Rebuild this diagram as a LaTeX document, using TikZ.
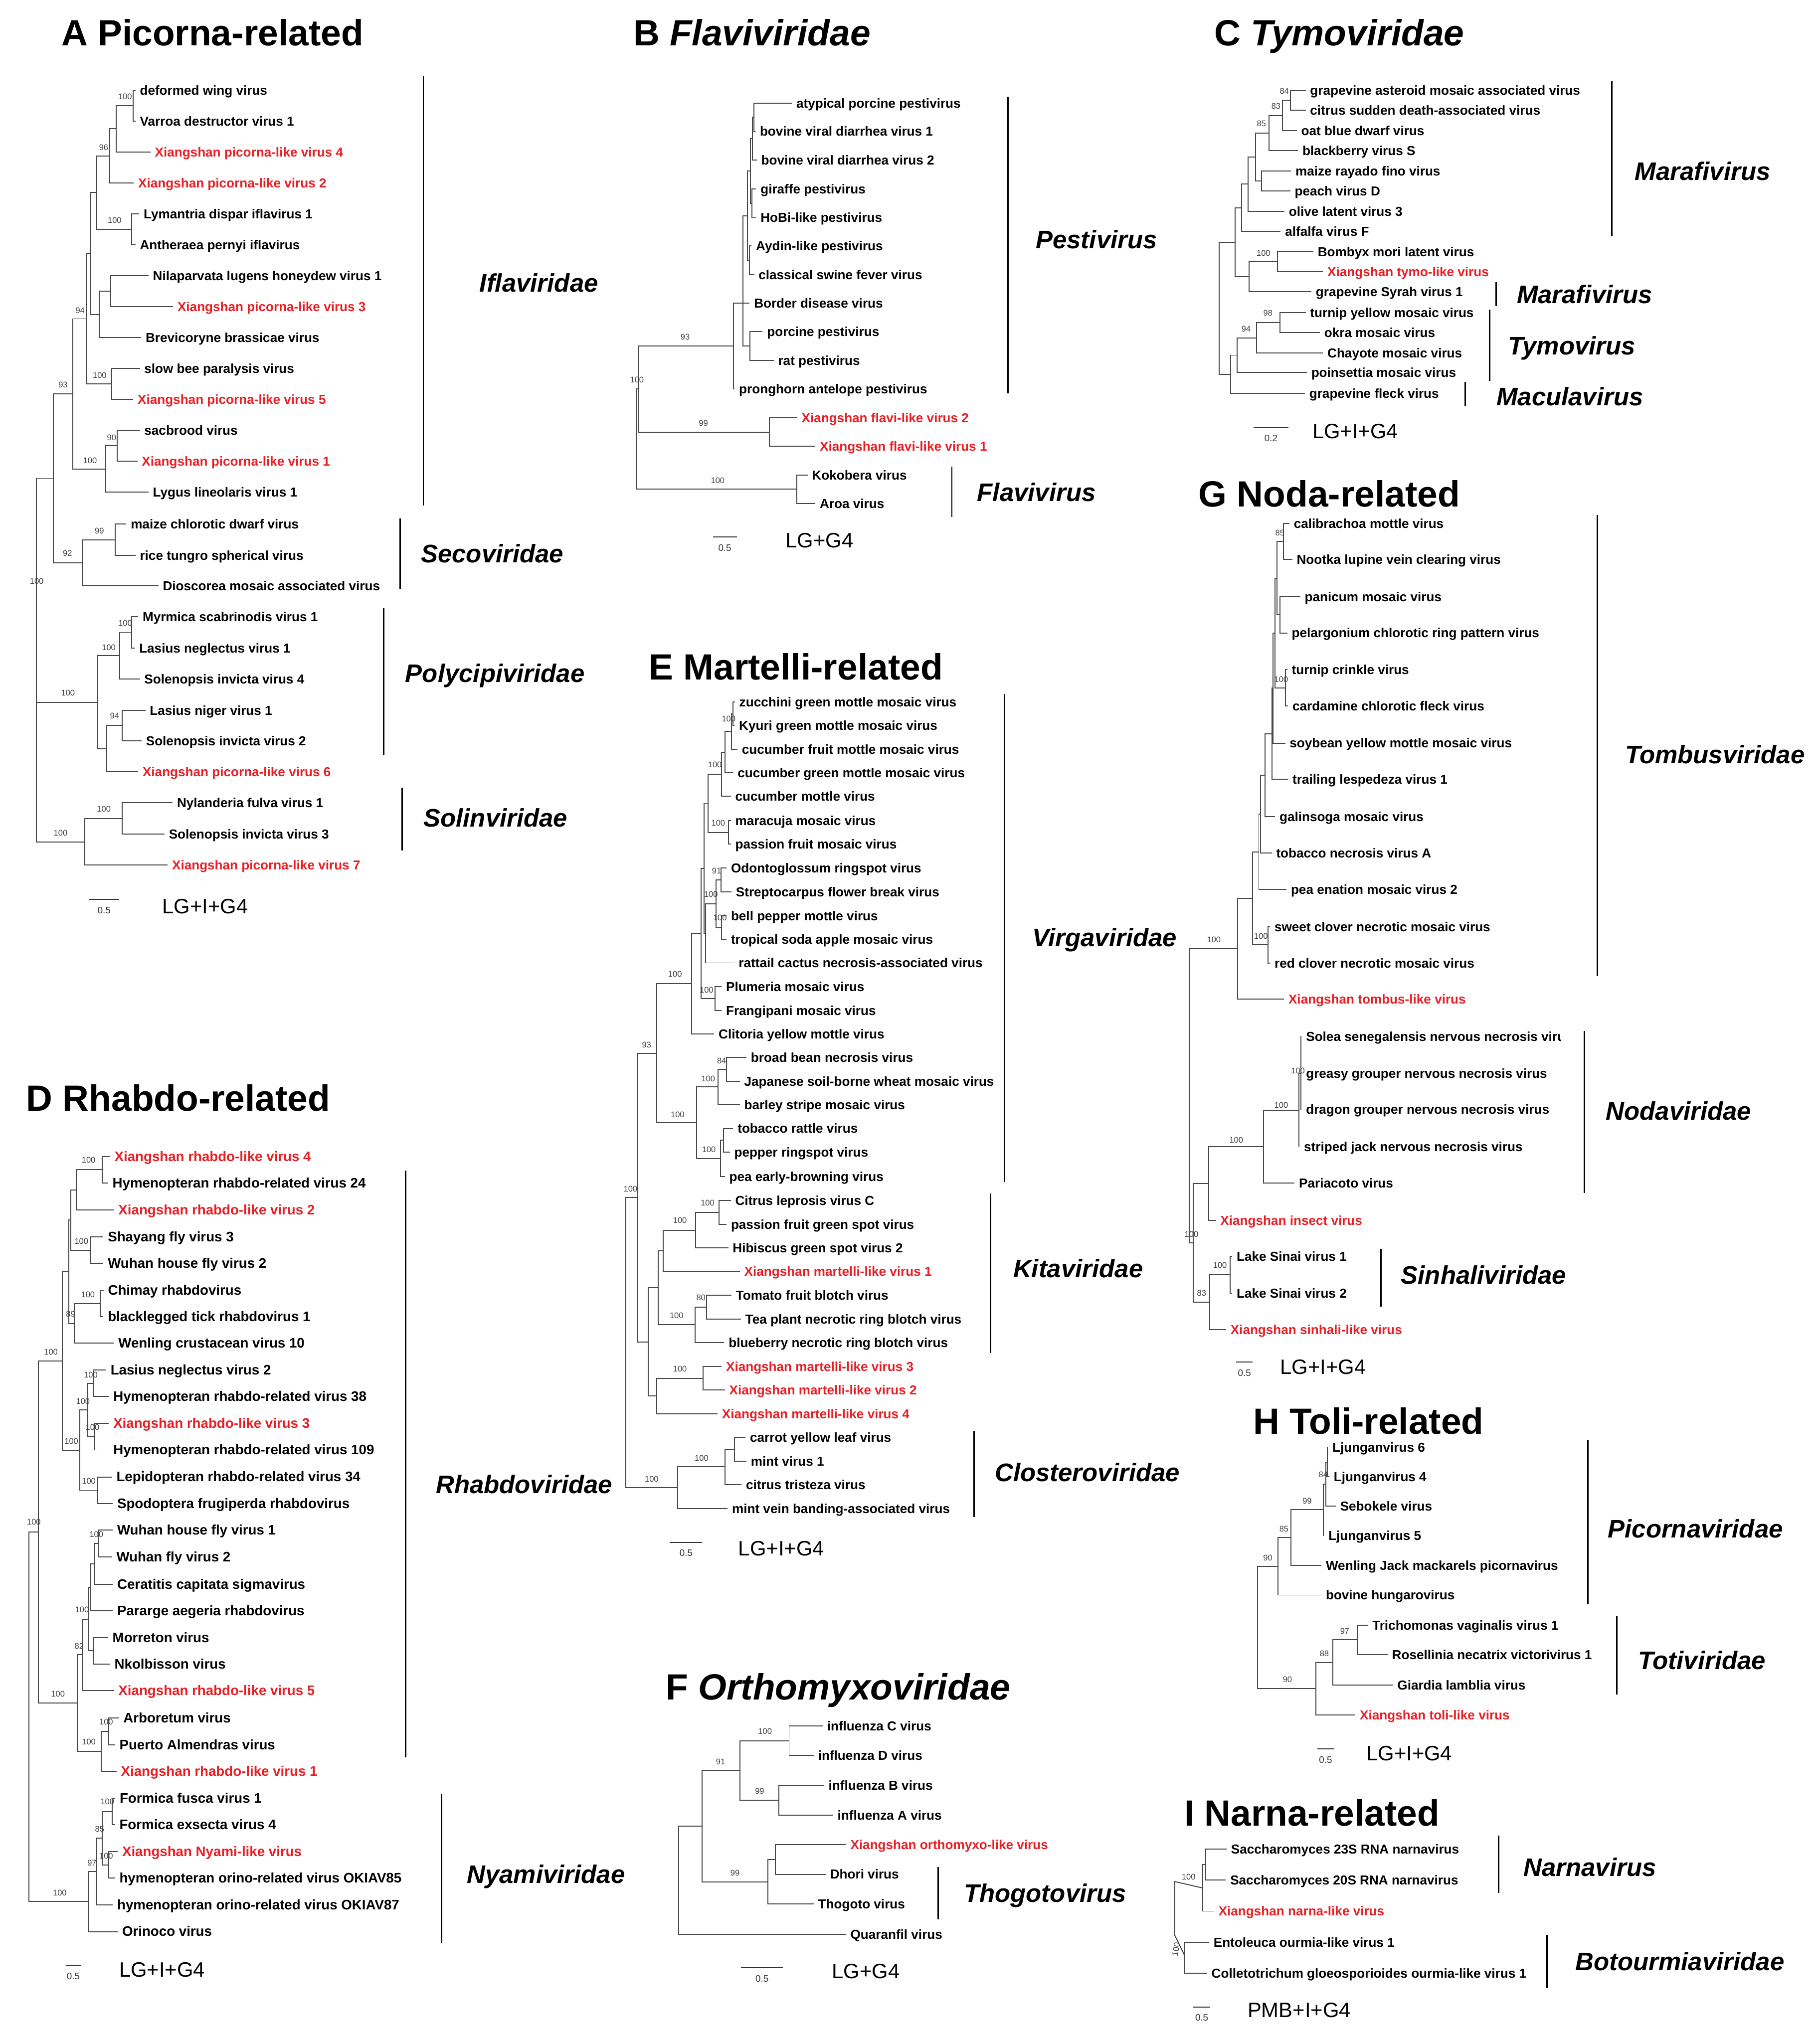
\documentclass[tikz,border=0pt]{standalone}
\usepackage{fontspec}
\setmainfont{Liberation Sans}
\definecolor{xred}{RGB}{232,30,36}
\newcounter{nc}
\tikzset{
 br/.style={draw=black!72, line width=0.75pt},
 leaf/.style={font=\fontsize{10}{12}\selectfont\bfseries, inner sep=0pt, text=black},
 bsl/.style={font=\fontsize{6.3}{7}\selectfont, inner sep=0pt, text=black!75, anchor=base},
 cbarst/.style={draw=black, line width=1.1pt},
 famst/.style={font=\fontsize{19.5}{22}\selectfont\bfseries\itshape, inner sep=0pt, anchor=base west},
 ttlst/.style={font=\fontsize{28}{32}\selectfont\bfseries, inner sep=0pt, anchor=base west},
 modst/.style={font=\fontsize{16}{18}\selectfont, inner sep=0pt, anchor=base west},
 scst/.style={font=\fontsize{7.2}{8}\selectfont, inner sep=0pt, anchor=base, text=black!80},
}
\newcommand\cl[5]{\draw[br] (#2,#3) -| (#1,#5) -- (#4,#5);}
\newcommand\hb[3]{\draw[br] (#1,#3) -- (#2,#3);}
\newcommand\lf[4]{\node[leaf,anchor=base west] (#1) at ({#2+3.2},{#3+3.6}) {#4};}
\newcommand\lr[4]{\node[leaf,text=xred,anchor=base west] (#1) at ({#2+3.2},{#3+3.6}) {#4};}
\newcommand\lfc[6]{\begin{scope}\clip ({#2},{#3-9}) rectangle (#5,{#3+9});\node[leaf,text=#6,anchor=base west] (#1) at ({#2+3.2},{#3+3.6}) {#4};\end{scope}}
\newcommand\bs[3]{\stepcounter{nc}\edef\nn{bs\arabic{nc}}\node[bsl] (\nn) at (#1,{#2+2.2}) {#3};}
\newcommand\cbar[3]{\draw[cbarst] (#1,#2) -- (#1,#3);}
\newcommand\flab[4]{\node[famst] (#1) at (#2,{#3+7}) {#4};}
\newcommand\ttl[4]{\node[ttlst] (#1) at (#2,{#3+10}) {#4};}
\newcommand\scb[8]{\draw[br,draw=black!80] (#2,#4) -- (#3,#4);\node[scst] (#1s) at ({(#2+#3)/2},{#4+10.8}) {#5};\node[modst] (#1m) at (#7,{#8+5.7}) {#6};}
\begin{document}
\begin{tikzpicture}[x=1pt,y=-1pt]
\fill[white,use as bounding box] (0,0) rectangle (1397,1568);
% ================= A
\ttl{tA}{47}{25}{A Picorna-related}
\lf{a1}{104}{69.2}{deformed wing virus}
\lf{a2}{104}{92.9}{Varroa destructor virus 1}
\lr{a3}{115.5}{116.8}{Xiangshan picorna-like virus 4}
\lr{a4}{102.7}{140.5}{Xiangshan picorna-like virus 2}
\lf{a5}{106.9}{164.3}{Lymantria dispar iflavirus 1}
\lf{a6}{104}{188.0}{Antheraea pernyi iflavirus}
\lf{a7}{114}{211.8}{Nilaparvata lugens honeydew virus 1}
\lr{a8}{132.9}{235.5}{Xiangshan picorna-like virus 3}
\lf{a9}{108.4}{259.3}{Brevicoryne brassicae virus}
\lf{a10}{107.4}{283.0}{slow bee paralysis virus}
\lr{a11}{102.3}{306.7}{Xiangshan picorna-like virus 5}
\lf{a12}{107.4}{330.5}{sacbrood virus}
\lr{a13}{105.5}{354.2}{Xiangshan picorna-like virus 1}
\lf{a14}{114}{378.0}{Lygus lineolaris virus 1}
\lf{a15}{97}{402.4}{maize chlorotic dwarf virus}
\lf{a16}{104}{426.4}{rice tungro spherical virus}
\lf{a17}{121.6}{449.8}{Dioscorea mosaic associated virus}
\lf{a18}{106.1}{473.6}{Myrmica scabrinodis virus 1}
\lf{a19}{103.5}{497.6}{Lasius neglectus virus 1}
\lf{a20}{107.4}{521.4}{Solenopsis invicta virus 4}
\lf{a21}{111.6}{545.4}{Lasius niger virus 1}
\lf{a22}{108.7}{568.7}{Solenopsis invicta virus 2}
\lr{a23}{106.1}{592.7}{Xiangshan picorna-like virus 6}
\lf{a24}{132.5}{616.5}{Nylanderia fulva virus 1}
\lf{a25}{126.3}{640.5}{Solenopsis invicta virus 3}
\lr{a26}{128.7}{664.3}{Xiangshan picorna-like virus 7}
\cl{102.1}{104}{69.2}{104}{92.9}
\cl{89.1}{102.1}{81.05}{115.5}{116.8}
\cl{84.4}{89.1}{98.9}{102.7}{140.5}
\cl{101.2}{106.9}{164.3}{104}{188.0}
\cl{74.4}{84.4}{119.7}{101.2}{176.15}
\cl{84.8}{114}{211.8}{132.9}{235.5}
\cl{76.3}{84.8}{223.65}{108.4}{259.3}
\cl{69.7}{74.4}{147.9}{76.3}{241.5}
\cl{85.7}{107.4}{283.0}{102.3}{306.7}
\cl{66.3}{69.7}{194.7}{85.7}{294.85}
\cl{89.9}{107.4}{330.5}{105.5}{354.2}
\cl{81.0}{89.9}{342.35}{114}{378.0}
\cl{55.9}{66.3}{244.8}{81.0}{360.2}
\cl{88.6}{97}{402.4}{104}{426.4}
\cl{63.1}{88.6}{414.4}{121.6}{449.8}
\cl{40.8}{55.9}{302.5}{63.1}{432.1}
\cl{101.2}{106.1}{473.6}{103.5}{497.6}
\cl{91.8}{101.2}{485.6}{107.4}{521.4}
\cl{93.7}{111.6}{545.4}{108.7}{568.7}
\cl{82.0}{93.7}{557.05}{106.1}{592.7}
\cl{75.0}{91.8}{503.5}{82.0}{574.9}
\cl{93.7}{132.5}{616.5}{126.3}{640.5}
\cl{65.0}{93.7}{628.5}{128.7}{664.3}
\cl{28}{40.8}{367.3}{65.0}{646.4}
\hb{28}{75}{539.2}
\bs{96}{74}{100}\bs{79.6}{113.1}{96}\bs{88}{169.2}{100}\bs{61.5}{238.3}{94}
\bs{76.5}{288}{100}\bs{48.4}{295.5}{93}\bs{85.7}{335.9}{90}\bs{69.1}{353.8}{100}
\bs{76.3}{407.5}{99}\bs{51.8}{425}{92}\bs{28.2}{446.3}{100}\bs{96.1}{478.3}{100}
\bs{83.5}{497}{100}\bs{88}{549.8}{94}\bs{52.2}{532.1}{100}\bs{79.7}{621.2}{100}\bs{46.5}{639.5}{100}
\cbar{325}{58}{388}\cbar{307.3}{398}{452}\cbar{294.5}{467}{580}\cbar{308.8}{605}{653}
\flab{fA1}{368}{217}{Iflaviridae}\flab{fA2}{323}{425}{Secoviridae}
\flab{fA3}{311}{517}{Polycipiviridae}\flab{fA4}{325}{628}{Solinviridae}
\scb{scA}{68.4}{91.4}{690.7}{0.5}{LG+I+G4}{124.4}{695.8}
% ================= B
\ttl{tB}{486}{25}{B \textit{Flaviviridae}}
\lf{b1}{608}{79.1}{atypical porcine pestivirus}
\lf{b2}{580}{100.9}{bovine viral diarrhea virus 1}
\lf{b3}{581}{123}{bovine viral diarrhea virus 2}
\lf{b4}{580.5}{145.1}{giraffe pestivirus}
\lf{b5}{580.5}{167.1}{HoBi-like pestivirus}
\lf{b6}{577}{188.9}{Aydin-like pestivirus}
\lf{b7}{579}{211}{classical swine fever virus}
\lf{b8}{575.5}{232.8}{Border disease virus}
\lf{b9}{585.5}{254.6}{porcine pestivirus}
\lf{b10}{594}{276.7}{rat pestivirus}
\lf{b11}{564}{298.5}{pronghorn antelope pestivirus}
\lr{b12}{612}{320.8}{Xiangshan flavi-like virus 2}
\lr{b13}{626}{342.7}{Xiangshan flavi-like virus 1}
\lf{b14}{620}{364.7}{Kokobera virus}
\lf{b15}{626}{386.6}{Aroa virus}
\cl{578.7}{608}{79.1}{580}{100.9}
\cl{577.5}{578.7}{90}{581}{123}
\cl{577.3}{580.5}{145.1}{580.5}{167.1}
\cl{576}{577.5}{106.5}{577.3}{156.1}
\cl{575.5}{577}{188.9}{579}{211}
\cl{574}{576}{131.3}{575.5}{200}
\cl{575.6}{585.5}{254.6}{594}{276.7}
\cl{570.4}{574}{165.6}{575.6}{265.65}
\hb{570.4}{575.5}{232.8}
\cl{563.1}{570.4}{232.8}{564}{298.5}
\cl{590.7}{612}{320.8}{626}{342.7}
\cl{490.4}{563.1}{265.7}{590.7}{331.75}
\cl{611.9}{620}{364.7}{626}{386.6}
\cl{488.5}{490.4}{298.7}{611.9}{375.65}
\bs{526}{258.6}{93}\bs{540}{324.8}{99}\bs{551}{369}{100}\bs{489}{291.5}{100}
\cbar{773.8}{74.4}{302}\cbar{730.8}{358.4}{397}
\flab{fB1}{795}{184}{Pestivirus}\flab{fB2}{750}{378}{Flavivirus}
\scb{scB}{547.3}{565.6}{412.4}{0.5}{LG+G4}{603}{414.7}
% ================= C
\ttl{tC}{932}{25}{C \textit{Tymoviridae}}
\lf{c1}{1002.4}{69.5}{grapevine asteroid mosaic associated virus}
\lf{c2}{1002.4}{84.7}{citrus sudden death-associated virus}
\lf{c3}{995.6}{100.2}{oat blue dwarf virus}
\lf{c4}{996.5}{115.7}{blackberry virus S}
\lf{c5}{991.2}{131.2}{maize rayado fino virus}
\lf{c6}{990.6}{146.7}{peach virus D}
\lf{c7}{986.1}{162.2}{olive latent virus 3}
\lf{c8}{983.2}{177.6}{alfalfa virus F}
\lf{c9}{1008.3}{193.5}{Bombyx mori latent virus}
\lr{c10}{1015.7}{208.6}{Xiangshan tymo-like virus}
\lf{c11}{1006.8}{224.1}{grapevine Syrah virus 1}
\lf{c12}{1002.4}{240}{turnip yellow mosaic virus}
\lf{c13}{1013.3}{255.5}{okra mosaic virus}
\lf{c14}{1015.7}{271}{Chayote mosaic virus}
\lf{c15}{1003.3}{286.1}{poinsettia mosaic virus}
\lf{c16}{1001.8}{302}{grapevine fleck virus}
\cl{990.6}{1002.4}{69.5}{1002.4}{84.7}
\cl{984.7}{990.6}{77.1}{995.6}{100.2}
\cl{974.3}{984.7}{88.65}{996.5}{115.7}
\cl{968.4}{991.2}{131.2}{990.6}{146.7}
\cl{964}{974.3}{102.2}{968.4}{138.95}
\cl{958.1}{964}{120.6}{986.1}{162.2}
\cl{953.1}{958.1}{141.4}{983.2}{177.6}
\cl{980.8}{1008.3}{193.5}{1015.7}{208.6}
\cl{959}{980.8}{201.05}{1006.8}{224.1}
\cl{948.3}{953.1}{159.5}{959}{212.6}
\cl{982.6}{1002.4}{240}{1013.3}{255.5}
\cl{964.6}{982.6}{247.75}{1015.7}{271}
\cl{949.8}{964.6}{259.4}{1003.3}{286.1}
\cl{944.8}{949.8}{272.75}{1001.8}{302}
\cl{935.9}{948.3}{186.05}{944.8}{287.4}
\bs{986}{70}{84}\bs{979.6}{81.4}{83}\bs{968.4}{95}{85}\bs{970}{194.4}{100}\bs{973.4}{240.5}{98}\bs{956.6}{252.4}{94}
\cbar{1237.3}{61.9}{181.3}\cbar{1148.7}{216.8}{235}\cbar{1143.6}{237.8}{292.5}\cbar{1125}{293.4}{311.6}
\flab{fC1}{1255}{131.2}{Marafivirus}\flab{fC2}{1164.3}{226}{Marafivirus}
\flab{fC3}{1157.5}{265.2}{Tymovirus}\flab{fC4}{1148.7}{304.4}{Maculavirus}
\scb{scC}{962.5}{989.1}{328}{0.2}{LG+I+G4}{1007.4}{330.8}
% ================= D
\ttl{tD}{20}{843}{D Rhabdo-related}
\begin{scope}[leaf/.append style={font=\fontsize{10.6}{12}\selectfont\bfseries}]
\lr{d1}{84.5}{888.2}{Xiangshan rhabdo-like virus 4}
\lf{d2}{83}{908.3}{Hymenopteran rhabdo-related virus 24}
\lr{d3}{87.5}{929.1}{Xiangshan rhabdo-like virus 2}
\lf{d4}{79.4}{949.8}{Shayang fly virus 3}
\lf{d5}{79.4}{970.2}{Wuhan house fly virus 2}
\lf{d6}{79.5}{990.9}{Chimay rhabdovirus}
\lf{d7}{79.4}{1011.1}{blacklegged tick rhabdovirus 1}
\lf{d8}{87.5}{1031.4}{Wenling crustacean virus 10}
\lf{d9}{81.5}{1052.1}{Lasius neglectus virus 2}
\lf{d10}{83.6}{1072.3}{Hymenopteran rhabdo-related virus 38}
\lr{d11}{83.6}{1093}{Xiangshan rhabdo-like virus 3}
\lf{d12}{83.6}{1113.4}{Hymenopteran rhabdo-related virus 109}
\lf{d13}{86}{1134.1}{Lepidopteran rhabdo-related virus 34}
\lf{d14}{86.6}{1154.7}{Spodoptera frugiperda rhabdovirus}
\lf{d15}{86.6}{1175}{Wuhan house fly virus 1}
\lf{d16}{86}{1195.5}{Wuhan fly virus 2}
\lf{d17}{86.6}{1216.6}{Ceratitis capitata sigmavirus}
\lf{d18}{86.6}{1236.7}{Pararge aegeria rhabdovirus}
\lf{d19}{83}{1257.6}{Morreton virus}
\lf{d20}{84.5}{1277.7}{Nkolbisson virus}
\lr{d21}{87.5}{1298.2}{Xiangshan rhabdo-like virus 5}
\lf{d22}{91.3}{1319.1}{Arboretum virus}
\lf{d23}{88.3}{1339.7}{Puerto Almendras virus}
\lr{d24}{89.5}{1360.2}{Xiangshan rhabdo-like virus 1}
\lf{d25}{88.5}{1380.7}{Formica fusca virus 1}
\lf{d26}{88.3}{1401.2}{Formica exsecta virus 4}
\lr{d27}{90.4}{1421.7}{Xiangshan Nyami-like virus}
\lfc{d28}{88.3}{1442.2}{hymenopteran orino-related virus OKIAV85}{308.4}{black}
\lf{d29}{86.6}{1462.7}{hymenopteran orino-related virus OKIAV87}
\lf{d30}{90.4}{1483.2}{Orinoco virus}
\end{scope}
\cl{78.6}{84.5}{888.2}{83}{908.3}
\cl{58.4}{78.6}{898.25}{87.5}{929.1}
\cl{69.7}{79.4}{949.8}{79.4}{970.2}
\cl{54.2}{58.4}{913.7}{69.7}{960}
\cl{77.1}{79.5}{990.9}{79.4}{1011.1}
\cl{57.2}{77.1}{1001}{87.5}{1031.4}
\cl{52.8}{54.2}{936.85}{57.2}{1016.2}
\cl{71.7}{81.5}{1052.1}{83.6}{1072.3}
\cl{72.6}{83.6}{1093}{83.6}{1113.4}
\cl{67.3}{71.7}{1062.2}{72.6}{1103.2}
\cl{75}{86}{1134.1}{86.6}{1154.7}
\cl{61.4}{67.3}{1082.7}{75}{1144.4}
\cl{48}{52.8}{976.5}{61.4}{1113.55}
\cl{75.6}{86.6}{1175}{86}{1195.5}
\cl{72.6}{75.6}{1185.25}{86.6}{1216.6}
\cl{69.7}{72.6}{1200.9}{86.6}{1236.7}
\cl{71.7}{83}{1257.6}{84.5}{1277.7}
\cl{68}{69.7}{1218.8}{71.7}{1267.65}
\cl{63.1}{68}{1243.2}{87.5}{1298.2}
\cl{83.6}{91.3}{1319.1}{88.3}{1339.7}
\cl{77.7}{83.6}{1329.4}{89.5}{1360.2}
\cl{59.3}{63.1}{1270.7}{77.7}{1344.8}
\cl{29.6}{48}{1045}{59.3}{1307.75}
\cl{86}{88.5}{1380.7}{88.3}{1401.2}
\cl{83.6}{90.4}{1421.7}{88.3}{1442.2}
\cl{78.6}{86}{1390.95}{83.6}{1431.95}
\cl{74.1}{78.6}{1411.45}{86.6}{1462.7}
\cl{68.2}{74.1}{1437.1}{90.4}{1483.2}
\cl{22.2}{29.6}{1176.4}{68.2}{1460.15}
\bs{68}{890.7}{100}\bs{62.5}{953}{100}\bs{67.5}{994}{100}\bs{54.2}{1009}{89}
\bs{69.7}{1055.7}{100}\bs{71}{1096}{100}\bs{63.7}{1075.8}{100}\bs{68.2}{1137.2}{100}
\bs{54.8}{1106.5}{100}\bs{39.1}{1038}{100}\bs{26}{1168.8}{100}\bs{74}{1178}{100}
\bs{63}{1236}{100}\bs{60.8}{1264}{82}\bs{81.5}{1322}{100}\bs{68.2}{1337.5}{100}
\bs{44.5}{1300.8}{100}\bs{82.4}{1383.5}{100}\bs{81.5}{1425}{100}\bs{76.5}{1404.4}{85}
\bs{70.6}{1430.3}{97}\bs{45.9}{1453.4}{100}
\cbar{311.4}{899}{1349.4}\cbar{339}{1377.9}{1491.9}
\flab{fD1}{334.5}{1139.7}{Rhabdoviridae}\flab{fD2}{358.3}{1439}{Nyamiviridae}
\scb{scD}{50.4}{62.2}{1509.1}{0.5}{LG+I+G4}{91.3}{1512.4}
% ================= E
\ttl{tE}{498}{512}{E Martelli-related}
\lf{e1}{564.2}{539}{zucchini green mottle mosaic virus}
\lf{e2}{564}{557}{Kyuri green mottle mosaic virus}
\lf{e3}{566.2}{575.3}{cucumber fruit mottle mosaic virus}
\lf{e4}{562.9}{593.5}{cucumber green mottle mosaic virus}
\lf{e5}{561.1}{611.5}{cucumber mottle virus}
\lf{e6}{561.1}{630.2}{maracuja mosaic virus}
\lf{e7}{561.1}{648.2}{passion fruit mosaic virus}
\lf{e8}{557.8}{666.4}{Odontoglossum ringspot virus}
\lf{e9}{561.6}{684.7}{Streptocarpus flower break virus}
\lf{e10}{557.8}{703.1}{bell pepper mottle virus}
\lf{e11}{557.8}{721.4}{tropical soda apple mosaic virus}
\lf{e12}{563.7}{739.4}{rattail cactus necrosis-associated virus}
\lf{e13}{554}{757.6}{Plumeria mosaic virus}
\lf{e14}{554}{775.9}{Frangipani mosaic virus}
\lf{e15}{548.3}{793.8}{Clitoria yellow mottle virus}
\lf{e16}{573.1}{812}{broad bean necrosis virus}
\lf{e17}{568}{830.3}{Japanese soil-borne wheat mosaic virus}
\lf{e18}{568}{848.3}{barley stripe mosaic virus}
\lf{e19}{562.9}{866.5}{tobacco rattle virus}
\lf{e20}{560.3}{884.8}{pepper ringspot virus}
\lf{e21}{556.5}{903.6}{pea early-browning virus}
\lf{e22}{561.1}{921.8}{Citrus leprosis virus C}
\lf{e23}{557.8}{940.1}{passion fruit green spot virus}
\lf{e24}{559.1}{958.2}{Hibiscus green spot virus 2}
\lr{e25}{568}{976.3}{Xiangshan martelli-like virus 1}
\lf{e26}{561.6}{994.7}{Tomato fruit blotch virus}
\lf{e27}{568.8}{1012.8}{Tea plant necrotic ring blotch virus}
\lf{e28}{556}{1030.9}{blueberry necrotic ring blotch virus}
\lr{e29}{554}{1049.2}{Xiangshan martelli-like virus 3}
\lr{e30}{556.5}{1067.4}{Xiangshan martelli-like virus 2}
\lr{e31}{550.9}{1085.5}{Xiangshan martelli-like virus 4}
\lf{e32}{572.4}{1103.8}{carrot yellow leaf virus}
\lf{e33}{573.1}{1121.9}{mint virus 1}
\lf{e34}{569.3}{1140}{citrus tristeza virus}
\lf{e35}{558.6}{1158.4}{mint vein banding-associated virus}
\cl{562.9}{564.2}{539}{564}{557}
\cl{561.6}{562.9}{548}{566.2}{575.3}
\cl{556.5}{561.6}{561.65}{562.9}{593.5}
\cl{554}{556.5}{577.6}{561.1}{611.5}
\cl{559.1}{561.1}{630.2}{561.1}{648.2}
\cl{543.7}{554}{594.55}{559.1}{639.2}
\cl{553.4}{557.8}{666.4}{561.6}{684.7}
\cl{554}{557.8}{703.1}{557.8}{721.4}
\cl{549.6}{553.4}{675.55}{554}{712.25}
\cl{541.7}{549.6}{693.9}{563.7}{739.4}
\cl{540.7}{543.7}{616.9}{541.7}{716.65}
\cl{548.8}{554}{757.6}{554}{775.9}
\cl{538.1}{540.7}{666.8}{548.8}{766.75}
\cl{530.9}{538.1}{716.8}{548.3}{793.8}
\cl{557.8}{573.1}{812}{568}{830.3}
\cl{551.4}{557.8}{821.15}{568}{848.3}
\cl{555.5}{562.9}{866.5}{560.3}{884.8}
\cl{553.2}{555.5}{875.65}{556.5}{903.6}
\cl{534.8}{551.4}{834.7}{553.2}{889.6}
\cl{504.1}{530.9}{755.3}{534.8}{862.15}
\cl{551.9}{561.1}{921.8}{557.8}{940.1}
\cl{534}{551.9}{930.95}{559.1}{958.2}
\cl{509.2}{534}{944.6}{568}{976.3}
\cl{542.5}{561.6}{994.7}{568.8}{1012.8}
\cl{533.5}{542.5}{1003.75}{556}{1030.9}
\cl{505.4}{509.2}{960.45}{533.5}{1017.3}
\cl{539.9}{554}{1049.2}{556.5}{1067.4}
\cl{504.1}{539.9}{1058.3}{550.9}{1085.5}
\cl{497.7}{505.4}{988.9}{504.1}{1071.9}
\cl{489.5}{504.1}{808.7}{497.7}{1030.4}
\cl{563.7}{572.4}{1103.8}{573.1}{1121.9}
\cl{556.5}{563.7}{1112.85}{569.3}{1140}
\cl{520.2}{556.5}{1126.4}{558.6}{1158.4}
\cl{480.6}{489.5}{919.55}{520.2}{1142.4}
\bs{559.4}{552}{100}\bs{548.8}{587.1}{100}\bs{551.4}{632.1}{100}\bs{550.1}{668.8}{91}
\bs{545.8}{686.6}{100}\bs{552.7}{704.8}{100}\bs{542.4}{760}{100}\bs{518.2}{748.1}{100}
\bs{554}{814.4}{84}\bs{543.7}{828.2}{100}\bs{544.2}{882.6}{100}\bs{520.2}{855.9}{100}
\bs{496.4}{802.1}{93}\bs{484}{912.8}{100}\bs{543.2}{923.5}{100}\bs{522}{937.2}{100}
\bs{538.1}{996.2}{80}\bs{519.4}{1010.3}{100}\bs{522}{1051.2}{100}\bs{538.6}{1119.6}{100}\bs{500.3}{1135.6}{100}
\cbar{771.3}{532.7}{907.5}\cbar{760.3}{916.3}{1039.1}\cbar{747.8}{1098.5}{1164.8}
\flab{fE1}{792.3}{719.7}{Virgaviridae}\flab{fE2}{777.7}{973.8}{Kitaviridae}\flab{fE3}{763.6}{1130.7}{Closteroviridae}
\scb{scE}{514.3}{539.1}{1184.3}{0.5}{LG+I+G4}{566.7}{1188.8}
% ================= F
\ttl{tF}{511}{1295}{F \textit{Orthomyxoviridae}}
\lf{f1}{631.6}{1325.2}{influenza C virus}
\lf{f2}{624.7}{1348}{influenza D virus}
\lf{f3}{632.7}{1370.9}{influenza B virus}
\lf{f4}{639.6}{1393.8}{influenza A virus}
\lfc{f5}{649.5}{1416.5}{Xiangshan orthomyxo-like virus}{806.7}{xred}
\lf{f6}{633.9}{1439.2}{Dhori virus}
\lf{f7}{624.7}{1462.1}{Thogoto virus}
\lf{f8}{649.5}{1485.3}{Quaranfil virus}
\cl{605.8}{631.6}{1325.2}{624.7}{1348}
\cl{598.1}{632.7}{1370.9}{639.6}{1393.8}
\cl{568.2}{605.8}{1336.6}{598.1}{1382.35}
\cl{595.1}{649.5}{1416.5}{633.9}{1439.2}
\cl{589.6}{595.1}{1427.85}{624.7}{1462.1}
\cl{538.9}{568.2}{1359.5}{589.6}{1445}
\cl{520.9}{538.9}{1402.25}{649.5}{1485.3}
\bs{587.3}{1329.5}{100}\bs{583.2}{1375.5}{99}\bs{553.2}{1352.6}{91}\bs{564.3}{1438.3}{99}
\cbar{720.3}{1433.6}{1474}
\flab{fF1}{739.9}{1453.7}{Thogotovirus}
\scb{scF}{568.9}{601.1}{1510.9}{0.5}{LG+G4}{638.5}{1513.4}
% ================= G
\ttl{tG}{920}{379}{G Noda-related}
\lf{g1}{989.9}{401.8}{calibrachoa mottle virus}
\lf{g2}{992.1}{429.6}{Nootka lupine vein clearing virus}
\lf{g3}{998.3}{458.2}{panicum mosaic virus}
\lf{g4}{988.3}{486}{pelargonium chlorotic ring pattern virus}
\lf{g5}{988.3}{514.2}{turnip crinkle virus}
\lf{g6}{988.9}{542}{cardamine chlorotic fleck virus}
\lf{g7}{986.7}{570.6}{soybean yellow mottle mosaic virus}
\lf{g8}{988.9}{598.4}{trailing lespedeza virus 1}
\lf{g9}{978.9}{627.1}{galinsoga mosaic virus}
\lf{g10}{976.4}{654.9}{tobacco necrosis virus A}
\lf{g11}{987.7}{683.1}{pea enation mosaic virus 2}
\lf{g12}{975.1}{711.7}{sweet clover necrotic mosaic virus}
\lf{g13}{975.1}{739.5}{red clover necrotic mosaic virus}
\lr{g14}{985.8}{767.3}{Xiangshan tombus-like virus}
\lfc{g15}{999.3}{795.9}{Solea senegalensis nervous necrosis virus}{1198.2}{black}
\lf{g16}{999.3}{824.1}{greasy grouper nervous necrosis virus}
\lf{g17}{999.3}{851.9}{dragon grouper nervous necrosis virus}
\lf{g18}{997.7}{880.6}{striped jack nervous necrosis virus}
\lf{g19}{993.9}{908.4}{Pariacoto virus}
\lr{g20}{933.5}{937}{Xiangshan insect virus}
\lf{g21}{946}{964.8}{Lake Sinai virus 1}
\lf{g22}{946}{993}{Lake Sinai virus 2}
\lr{g23}{941.3}{1020.8}{Xiangshan sinhali-like virus}
\cl{985.2}{989.9}{401.8}{992.1}{429.6}
\cl{982.7}{998.3}{458.2}{988.3}{486}
\cl{980.5}{985.2}{415.7}{982.7}{472.1}
\cl{986.7}{988.3}{514.2}{988.9}{542}
\cl{978.9}{980.5}{443.9}{986.7}{528.1}
\cl{977.3}{978.9}{486}{986.7}{570.6}
\cl{976.4}{977.3}{528.3}{988.9}{598.4}
\cl{971.1}{976.4}{563.35}{978.9}{627.1}
\cl{967.9}{971.1}{595.2}{976.4}{654.9}
\cl{966.4}{967.9}{625.05}{987.7}{683.1}
\cl{973.3}{975.1}{711.7}{975.1}{739.5}
\cl{961.7}{966.4}{654.1}{973.3}{725.6}
\cl{950.1}{961.7}{689.85}{985.8}{767.3}
\cl{998.6}{999.3}{795.9}{999.3}{851.9}
\hb{998.6}{999.3}{824.1}
\cl{997.1}{998.6}{824.1}{997.7}{880.6}
\cl{970.1}{997.1}{852.35}{993.9}{908.4}
\cl{928.1}{970.1}{880.4}{933.5}{937}
\cl{944.4}{946}{964.8}{946}{993}
\cl{928.8}{944.4}{978.9}{941.3}{1020.8}
\cl{916.2}{928.1}{908.7}{928.8}{999.85}
\cl{913.1}{950.1}{728.6}{916.2}{954.3}
\bs{982.6}{409}{85}\bs{983.6}{521.5}{100}\bs{968}{719}{100}\bs{996.5}{822}{100}
\bs{983.6}{848.5}{100}\bs{949.1}{875.5}{100}\bs{936.6}{971.6}{100}\bs{922.5}{993}{83}
\bs{931.9}{721.6}{100}\bs{914.7}{947.7}{100}
\cbar{1226.4}{395.4}{749.4}\cbar{1216.4}{791.7}{916}\cbar{1060.3}{958.8}{1003.3}
\flab{fG1}{1247.4}{579.2}{Tombusviridae}\flab{fG2}{1232.7}{852.8}{Nodaviridae}\flab{fG3}{1075.4}{979}{Sinhaliviridae}
\scb{scG}{949.1}{961.7}{1046}{0.5}{LG+I+G4}{982.7}{1049.4}
% ================= H
\ttl{tH}{962}{1091}{H Toli-related}
\lf{h1}{1019.5}{1111.2}{Ljunganvirus 6}
\lf{h2}{1020.6}{1134}{Ljunganvirus 4}
\lf{h3}{1025.5}{1156.4}{Sebokele virus}
\lf{h4}{1016.5}{1179.1}{Ljunganvirus 5}
\lf{h5}{1014.5}{1201.9}{Wenling Jack mackarels picornavirus}
\lf{h6}{1014.5}{1224.8}{bovine hungarovirus}
\lf{h7}{1050.2}{1247.8}{Trichomonas vaginalis virus 1}
\lf{h8}{1065.3}{1270.6}{Rosellinia necatrix victorivirus 1}
\lf{h9}{1069.4}{1293.8}{Giardia lamblia virus}
\lr{h10}{1040.6}{1317}{Xiangshan toli-like virus}
\cl{1019.2}{1019.5}{1111.2}{1020.6}{1134}
\cl{1017.8}{1019.2}{1122.6}{1025.5}{1156.4}
\cl{1015.9}{1017.8}{1139.5}{1016.5}{1179.1}
\cl{991.2}{1015.9}{1159.3}{1014.5}{1201.9}
\cl{981}{991.2}{1180.6}{1014.5}{1224.8}
\cl{1042}{1050.2}{1247.8}{1065.3}{1270.6}
\cl{1023.3}{1042}{1259.2}{1069.4}{1293.8}
\cl{1010.4}{1023.3}{1276.5}{1040.6}{1317}
\cl{965.6}{981}{1202.7}{1010.4}{1296.75}
\bs{1015.9}{1132.4}{84}\bs{1003.5}{1152.6}{99}\bs{985.7}{1173.8}{85}\bs{973.3}{1196.1}{90}
\bs{1032.4}{1252.4}{97}\bs{1016.7}{1269.8}{88}\bs{988.4}{1289.7}{90}
\cbar{1219.1}{1105.9}{1231.7}\cbar{1241.1}{1240.8}{1301.3}
\flab{fH1}{1234.2}{1173.8}{Picornaviridae}\flab{fH2}{1257.5}{1274.8}{Totiviridae}
\scb{scH}{1011.2}{1024.1}{1343}{0.5}{LG+I+G4}{1048.8}{1346}
% ================= I
\ttl{tI}{909}{1392}{I Narna-related}
\lf{i1}{941.7}{1420}{Saccharomyces 23S RNA narnavirus}
\lf{i2}{941.1}{1443.7}{Saccharomyces 20S RNA narnavirus}
\lr{i3}{932.1}{1467.5}{Xiangshan narna-like virus}
\lf{i4}{928.3}{1491.3}{Entoleuca ourmia-like virus 1}
\lf{i5}{926.7}{1515}{Colletotrichum gloeosporioides ourmia-like virus 1}
\cl{925.8}{941.7}{1420}{941.1}{1443.7}
\cl{923.2}{925.8}{1431.85}{932.1}{1467.5}
\cl{909.2}{928.3}{1491.3}{926.7}{1515}
\draw[br] (923.2,1449.7) -- (901.9,1444.8) -- (901.9,1486) -- (909.2,1501);
\bs{912.5}{1441}{100}
\stepcounter{nc}\node[bsl,rotate=80] (bsI2) at (905,1497) {100};
\cbar{1150.4}{1409.5}{1453.7}\cbar{1187.6}{1485.7}{1526.6}
\flab{fI1}{1169.5}{1433.8}{Narnavirus}\flab{fI2}{1209.3}{1506.2}{Botourmiaviridae}
\scb{scI}{916.2}{929}{1541}{0.5}{PMB+I+G4}{957.6}{1543.2}
\end{tikzpicture}
\end{document}
